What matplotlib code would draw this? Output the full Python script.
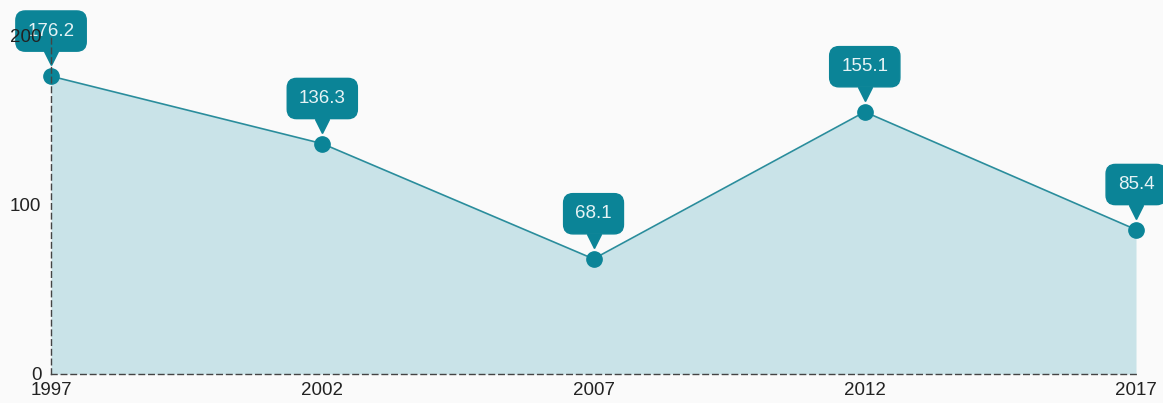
import matplotlib
matplotlib.use("Agg")
import matplotlib.pyplot as plt
from matplotlib.transforms import offset_copy

years = [1997, 2002, 2007, 2012, 2017]
values = [176.2, 136.3, 68.1, 155.1, 85.4]
yticks = [0, 100, 200]

LINE = "#2a8d9c"
DARK = "#0b8497"
FILL = "#c9e3e8"
BG = "#fafafa"

plt.rcParams["font.family"] = ["Liberation Sans", "DejaVu Sans"]

fig = plt.figure(figsize=(11.63, 4.03), dpi=100, facecolor=BG)
ax = fig.add_axes([0.0439, 0.072, 0.9329, 0.8387], facecolor=BG)

ax.fill_between(years, values, 0, color=FILL, lw=0, zorder=1)
ax.plot(years, values, color=LINE, lw=1.2, zorder=2)
ax.plot(years, values, "o", color=DARK, ms=11, mec=DARK, zorder=3, clip_on=False)

# callouts: rounded box with a small pointer
for x, v in zip(years, values):
    tri = offset_copy(ax.transData, fig=fig, x=0, y=18, units="dots")
    ax.plot([x], [v], marker="v", ms=9.5, color=DARK, mec=DARK,
            transform=tri, clip_on=False, zorder=4)
    ax.annotate(f"{v}", (x, v), xytext=(0, 32.5), textcoords="offset points",
                ha="center", va="center", fontsize=13.5, color="#e6f3f5",
                bbox=dict(boxstyle="round,pad=0.62,rounding_size=0.5",
                          fc=DARK, ec=DARK),
                annotation_clip=False, zorder=5)

ax.set_xlim(1997, 2017)
ax.set_ylim(0, 200)
ax.set_xticks(years)
ax.set_yticks(yticks)
ax.tick_params(length=0, labelsize=13.5, colors="#222222", pad=6)
ax.tick_params(axis="y", pad=7)
ax.yaxis.set_zorder(7)

for s in ["top", "right"]:
    ax.spines[s].set_visible(False)
for s in ["left", "bottom"]:
    ax.spines[s].set_linestyle((0, (4, 3)))
    ax.spines[s].set_color("#444444")
    ax.spines[s].set_linewidth(1.0)
    ax.spines[s].set_zorder(6)

fig.savefig("out.png", dpi=100, facecolor=BG)
